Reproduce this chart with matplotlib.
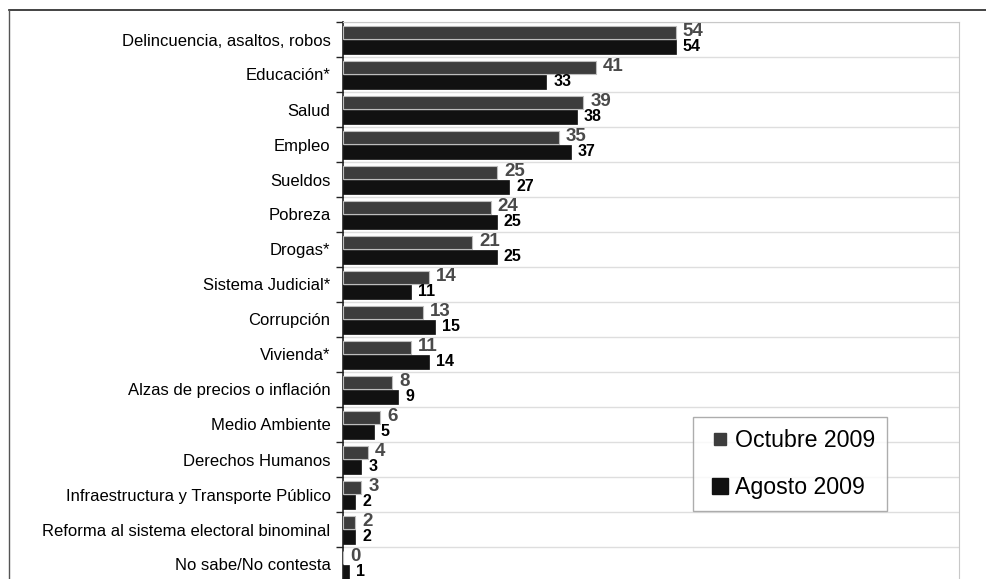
import matplotlib
matplotlib.use("Agg")
import matplotlib.pyplot as plt
from matplotlib.lines import Line2D
import numpy as np

plt.rcParams['font.family'] = ['Liberation Sans', 'DejaVu Sans']

categories = ["Delincuencia, asaltos, robos", "Educación*", "Salud", "Empleo", "Sueldos",
              "Pobreza", "Drogas*", "Sistema Judicial*", "Corrupción", "Vivienda*",
              "Alzas de precios o inflación", "Medio Ambiente", "Derechos Humanos",
              "Infraestructura y Transporte Público", "Reforma al sistema electoral binominal",
              "No sabe/No contesta"]
octubre = [54, 41, 39, 35, 25, 24, 21, 14, 13, 11, 8, 6, 4, 3, 2, 0]
agosto = [54, 33, 38, 37, 27, 25, 25, 11, 15, 14, 9, 5, 3, 2, 2, 1]
series_names = ["Octubre 2009", "Agosto 2009"]

W, H = 986, 579
fig = plt.figure(figsize=(W/100, H/100), dpi=100)

# outer frame lines
fig.add_artist(Line2D([9/W, 1], [1-9.5/H, 1-9.5/H], color='#222222', lw=1.2, transform=fig.transFigure))
fig.add_artist(Line2D([9/W, 9/W], [0, 1-9.5/H], color='#555555', lw=1.0, transform=fig.transFigure))

left, right, top, bottom = 343, 959, 22, 582
ax = fig.add_axes([left/W, (H-bottom)/H, (right-left)/W, (bottom-top)/H])

y = np.arange(len(categories))
h = 0.385
ax.barh(y - 0.2, octubre, height=h, color='#3d3d3d', edgecolor='#bdbdbd', linewidth=0.8, zorder=3)
ax.barh(y + 0.21, agosto, height=h, color='#111111', edgecolor='#111111', linewidth=0.5, zorder=3)

for i in range(len(categories)):
    ax.annotate(str(octubre[i]), (octubre[i], y[i] - 0.22), xytext=(5, 0), textcoords='offset points',
                ha='left', va='center', fontsize=13.5, fontweight='bold', color='#4a4a4a', zorder=4)
    ax.annotate(str(agosto[i]), (agosto[i], y[i] + 0.19), xytext=(5, 0), textcoords='offset points',
                ha='left', va='center', fontsize=11.5, fontweight='bold', color='#000000', zorder=4)

ax.set_xlim(0, 100)
ax.set_ylim(len(categories) - 0.5, -0.5)
ax.set_xticks([])

bounds = np.arange(len(categories) + 1) - 0.5
ax.set_yticks(bounds)
ax.set_yticklabels([])
ax.set_yticks(y, minor=True)
ax.set_yticklabels(categories, minor=True, fontsize=12)
ax.tick_params(axis='y', which='major', length=5, width=1, color='#222222', direction='out')
ax.tick_params(axis='y', which='minor', length=0, pad=9)
ax.grid(axis='y', which='major', color='#dedede', lw=1, zorder=0)

for s in ['top', 'right', 'bottom']:
    ax.spines[s].set_color('#c8c8c8')
ax.spines['left'].set_color('#222222')
ax.spines['left'].set_linewidth(1.2)

handles = [Line2D([], [], marker='s', ls='none', markersize=9, markerfacecolor='#3d3d3d', markeredgecolor='#3d3d3d'),
           Line2D([], [], marker='s', ls='none', markersize=11, markerfacecolor='#111111', markeredgecolor='#111111')]
leg = fig.legend(handles, series_names, loc='upper left', bbox_to_anchor=(693/W, 1-417/H),
                 borderaxespad=0, fontsize=16.7, frameon=True, fancybox=False, edgecolor='#999999',
                 labelspacing=1.02, handletextpad=0.0, borderpad=0.53, handlelength=1.27)
leg.get_frame().set_linewidth(1.0)

fig.savefig("out.png", dpi=100)
